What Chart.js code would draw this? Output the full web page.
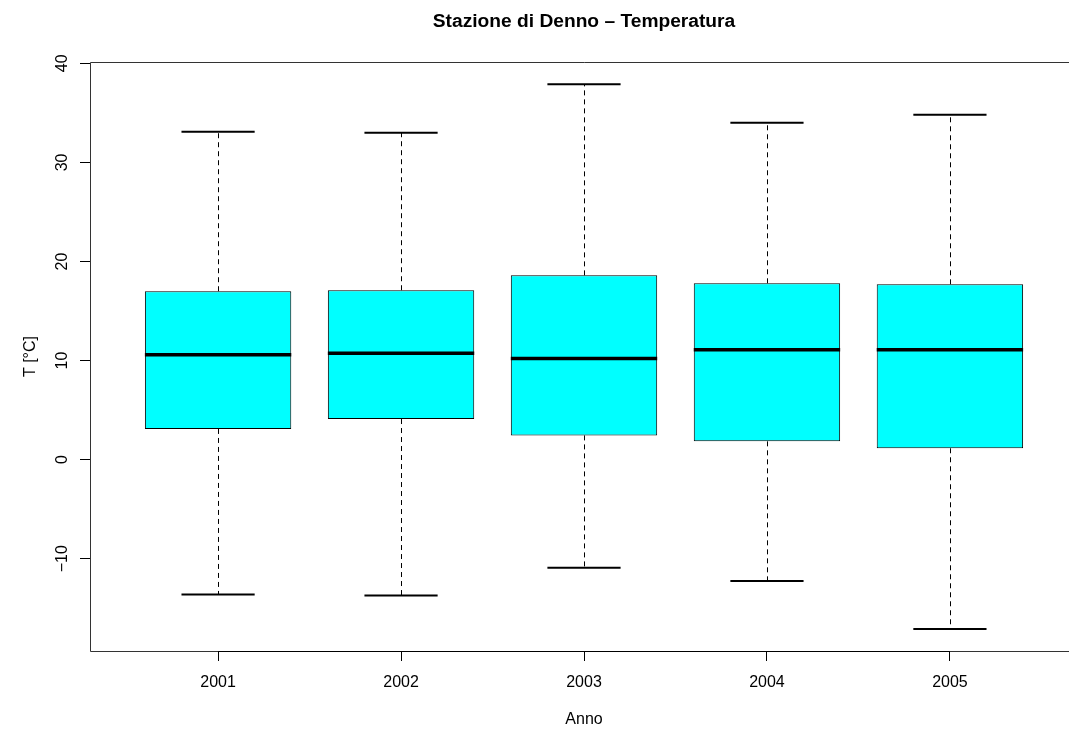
<!DOCTYPE html>
<html>
<head>
<meta charset="utf-8">
<script src="https://cdn.jsdelivr.net/npm/chart.js@4/dist/chart.umd.min.js"></script>
<style>
  html, body { margin: 0; padding: 0; overflow: hidden; background: #fff; }
  #wrap { width: 1078px; height: 731px; position: relative; }
</style>
</head>
<body>
<div id="wrap"><canvas id="grafico"></canvas></div>
<script>
const anni = ['2001', '2002', '2003', '2004', '2005']
const baffoMin = [-13.6, -13.7, -10.9, -12.25, -17.1]
const q1 = [3.1, 4.1, 2.45, 1.85, 1.15]
const mediana = [10.6, 10.75, 10.2, 11.1, 11.1]
const q3 = [17.0, 17.1, 18.6, 17.8, 17.7]
const baffoMax = [33.1, 33.0, 37.9, 34.0, 34.8]
const tickY = [-10, 0, 10, 20, 30, 40]

Chart.defaults.font.family = "'Liberation Sans', Arial, sans-serif"
Chart.defaults.color = '#000'

// baffi, mediane, cornice ed etichette dell'asse y
const boxplotExtra = {
  id: 'boxplotExtra',
  afterDatasetsDraw(chart) {
    const ctx = chart.ctx
    const x = chart.scales.x
    const y = chart.scales.y
    const area = chart.chartArea
    ctx.save()
    ctx.strokeStyle = '#000'

    anni.forEach((a, i) => {
      const cx = Math.round(x.getPixelForValue(i + 1)) + 0.5
      // baffi tratteggiati
      ctx.lineWidth = 1
      ctx.setLineDash([5, 4])
      ctx.beginPath()
      ctx.moveTo(cx, y.getPixelForValue(q3[i]))
      ctx.lineTo(cx, y.getPixelForValue(baffoMax[i]))
      ctx.moveTo(cx, y.getPixelForValue(q1[i]))
      ctx.lineTo(cx, y.getPixelForValue(baffoMin[i]))
      ctx.stroke()
      ctx.setLineDash([])
      // stanghette
      ctx.lineWidth = 2
      ctx.beginPath()
      ctx.moveTo(x.getPixelForValue(i + 0.8), y.getPixelForValue(baffoMax[i]))
      ctx.lineTo(x.getPixelForValue(i + 1.2), y.getPixelForValue(baffoMax[i]))
      ctx.moveTo(x.getPixelForValue(i + 0.8), y.getPixelForValue(baffoMin[i]))
      ctx.lineTo(x.getPixelForValue(i + 1.2), y.getPixelForValue(baffoMin[i]))
      ctx.stroke()
      // mediana
      ctx.lineWidth = 3.5
      ctx.beginPath()
      ctx.moveTo(x.getPixelForValue(i + 0.6), y.getPixelForValue(mediana[i]))
      ctx.lineTo(x.getPixelForValue(i + 1.4), y.getPixelForValue(mediana[i]))
      ctx.stroke()
    })

    // cornice (lato destro fuori dall'immagine)
    const l = Math.round(area.left) + 0.5
    const t = Math.round(area.top) + 0.5
    const b = Math.round(area.bottom) + 0.5
    ctx.lineWidth = 1
    ctx.strokeStyle = '#333'
    ctx.beginPath()
    ctx.moveTo(area.right + 5, t)
    ctx.lineTo(l, t)
    ctx.lineTo(l, b)
    ctx.lineTo(area.right + 5, b)
    ctx.stroke()
    // linea asse x da 2001 a 2005
    ctx.strokeStyle = '#000'
    ctx.beginPath()
    ctx.moveTo(x.getPixelForValue(1), b)
    ctx.lineTo(x.getPixelForValue(anni.length), b)
    ctx.stroke()

    // etichette asse y ruotate
    ctx.font = "16px 'Liberation Sans', Arial, sans-serif"
    ctx.fillStyle = '#000'
    ctx.textAlign = 'center'
    ctx.textBaseline = 'alphabetic'
    tickY.forEach(v => {
      ctx.save()
      ctx.translate(67, y.getPixelForValue(v))
      ctx.rotate(-Math.PI / 2)
      ctx.fillText(String(v).replace('-', '\u2212'), 0, 0)
      ctx.restore()
    })
    ctx.restore()
  }
}

const ctx = document.getElementById('grafico').getContext('2d')

const grafico = new Chart(ctx, {
  type: 'bar',
  data: {
    datasets: [{
      data: anni.map((a, i) => ({ x: i + 1, y: [q1[i], q3[i]] })),
      backgroundColor: '#00FFFF',
      borderColor: '#000',
      borderWidth: 1,
      borderSkipped: false,
      categoryPercentage: 1,
      barPercentage: 0.8
    }]
  },
  options: {
    responsive: true,
    maintainAspectRatio: false,
    animation: false,
    layout: { padding: 0 },
    scales: {
      x: {
        type: 'linear',
        offset: false,
        min: 0.3,
        max: 5.7,
        afterBuildTicks: (scale) => { scale.ticks = anni.map((a, i) => ({ value: i + 1 })) },
        afterFit: (scale) => { scale.height = 80 },
        grid: { display: true, offset: false, drawOnChartArea: false, drawTicks: true, tickLength: 10, color: '#000' },
        border: { display: false },
        ticks: {
          padding: 12,
          font: { size: 16 },
          callback: (v) => anni[v - 1]
        },
        title: { display: true, text: 'Anno', font: { size: 16 }, padding: { top: 0, bottom: 2 } }
      },
      y: {
        min: -19.31,
        max: 40.13,
        afterBuildTicks: (scale) => { scale.ticks = tickY.map(v => ({ value: v })) },
        afterFit: (scale) => { scale.width = 90 },
        grid: { display: true, drawOnChartArea: false, drawTicks: true, tickLength: 10, color: '#000' },
        border: { display: false },
        ticks: { display: false },
        title: { display: true, text: 'T [°C]', font: { size: 16 }, padding: { top: 21, bottom: 0 } }
      }
    },
    plugins: {
      legend: { display: false },
      tooltip: { enabled: false },
      title: {
        display: true,
        fullSize: false,
        text: 'Stazione di Denno \u2013 Temperatura',
        font: { size: 19.2, weight: 'bold' },
        padding: { top: 10, bottom: 29 }
      }
    }
  },
  plugins: [boxplotExtra]
})
</script>
</body>
</html>
